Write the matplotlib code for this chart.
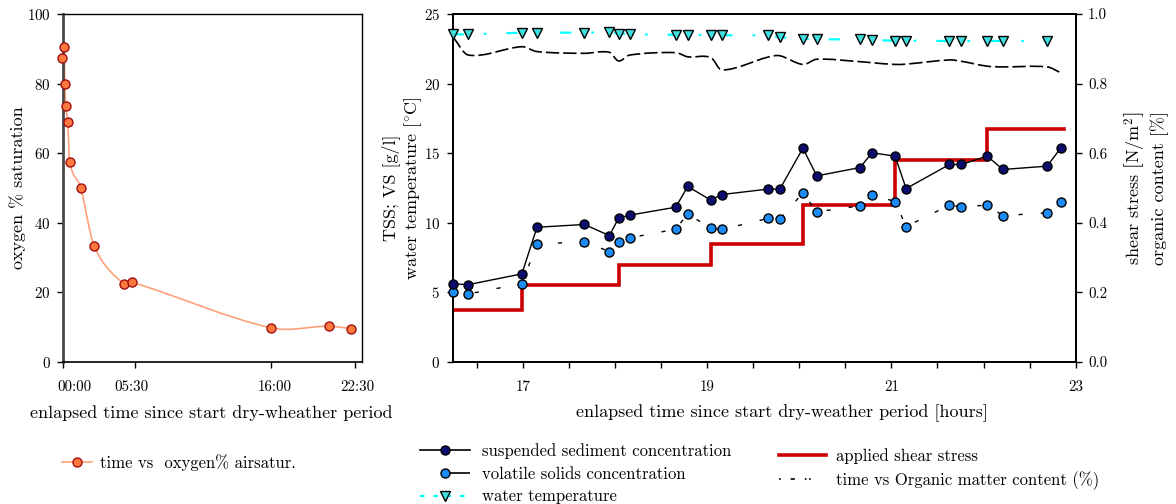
import numpy as np
import matplotlib
matplotlib.use("Agg")
import matplotlib.pyplot as plt
from matplotlib.path import Path
from matplotlib.patches import PathPatch
from matplotlib.lines import Line2D
from matplotlib.transforms import ScaledTranslation

plt.rcParams['font.family'] = ['cmr10', 'DejaVu Serif']
plt.rcParams['mathtext.fontset'] = 'cm'
plt.rcParams['axes.unicode_minus'] = False
plt.rcParams['axes.formatter.use_mathtext'] = True

# ---------------- oxygen saturation (left panel) ----------------
oxy_time_h = [-0.10, 0.03, 0.13, 0.19, 0.34, 0.49, 1.34, 2.39, 4.66, 5.30, 16.05, 20.48, 22.20]
oxy_saturation = [87.5, 90.4, 79.8, 73.5, 68.9, 57.5, 50.0, 33.2, 22.4, 22.9, 9.8, 10.3, 9.6]
oxy_tick_hours = [0, 5.5, 16, 22.5]
oxy_tick_labels = ['00:00', '05:30', '16:00', '22:30']

# ---------------- erosion experiment (right panel) ----------------
sample_time_h = [16.24, 16.41, 16.99, 17.155, 17.67, 17.94, 18.04, 18.16, 18.66, 18.79,
                 19.04, 19.16, 19.66, 19.79, 20.04, 20.19, 20.66, 20.79, 21.04, 21.16,
                 21.63, 21.76, 22.04, 22.21, 22.69, 22.84]
tss_gl = [5.61, 5.56, 6.33, 9.68, 9.88, 9.08, 10.33, 10.55, 11.12, 12.61,
          11.63, 12.03, 12.42, 12.42, 15.36, 13.37, 13.97, 15.03, 14.79, 12.46,
          14.19, 14.19, 14.79, 13.83, 14.07, 15.39]
vs_gl = [5.03, 4.89, 5.63, 8.46, 8.65, 7.93, 8.65, 8.92, 9.54, 10.64,
         9.61, 9.52, 10.31, 10.26, 12.15, 10.79, 11.22, 12.01, 11.53, 9.73,
         11.27, 11.15, 11.27, 10.52, 10.71, 11.48]
organic_content = [0.935, 0.882, 0.906, 0.892, 0.887, 0.890, 0.865, 0.882, 0.889, 0.877,
                   0.875, 0.839, 0.876, 0.880, 0.855, 0.870, 0.863, 0.860, 0.855, 0.856,
                   0.868, 0.864, 0.850, 0.848, 0.848, 0.831]
temp_time_h = sample_time_h[:-1]
water_temp_c = [23.54, 23.54, 23.66, 23.66, 23.66, 23.68, 23.59, 23.54, 23.51, 23.49,
                23.49, 23.47, 23.47, 23.32, 23.23, 23.18, 23.18, 23.13, 23.08, 23.08,
                23.06, 23.06, 23.06, 23.06, 23.06]
shear_step_h = [16.24, 16.99, 18.04, 19.04, 20.04, 21.04, 22.04, 22.87]
shear_stress = [0.15, 0.22, 0.28, 0.34, 0.45, 0.58, 0.67]
hour_ticks = np.arange(16.5, 23.01, 0.5)
labelled_hours = [17, 19, 21, 23]

C_OXY_LINE = '#ffa07a'
C_OXY_FACE = '#ff7840'
C_OXY_EDGE = '#a01010'
C_TSS = '#0c0c6e'
C_VS = '#1b8cf5'
C_TEMP_FACE = '#40e0e0'
C_TEMP_LINE = '#00ffff'
C_SHEAR = '#cc0000'

FS_TICK = 10.8
FS_LABEL = 13
FS_LEGEND = 12


def smooth_path(x, y):
    """Cubic Hermite curve through the points, parameterised by x."""
    x = np.asarray(x, float)
    y = np.asarray(y, float)
    n = len(x)
    m = np.empty(n)
    m[0] = (y[1] - y[0]) / (x[1] - x[0])
    m[-1] = (y[-1] - y[-2]) / (x[-1] - x[-2])
    m[1:-1] = (y[2:] - y[:-2]) / (x[2:] - x[:-2])
    verts = [(x[0], y[0])]
    codes = [Path.MOVETO]
    for i in range(n - 1):
        h = x[i + 1] - x[i]
        verts += [(x[i] + h / 3, y[i] + m[i] * h / 3),
                  (x[i + 1] - h / 3, y[i + 1] - m[i + 1] * h / 3),
                  (x[i + 1], y[i + 1])]
        codes += [Path.CURVE4] * 3
    return Path(verts, codes)


W, H = 1176, 504
fig = plt.figure(figsize=(W / 100, H / 100), dpi=100)
bottom = 1 - 362 / H
height = 348 / H

# ---------------- left panel ----------------
axL = fig.add_axes([63.3 / W, bottom, (361.7 - 63.3) / W, height])
axL.set_xlim(0, 23.02)
axL.set_ylim(0, 100)
axL.add_patch(PathPatch(smooth_path(oxy_time_h, oxy_saturation), fill=False,
                        edgecolor=C_OXY_LINE, lw=1.2, zorder=2))
axL.plot(oxy_time_h, oxy_saturation, ls='none', marker='o', ms=6.5,
         mfc=C_OXY_FACE, mec=C_OXY_EDGE, mew=1.0, zorder=3, clip_on=False)
axL.set_yticks(np.arange(0, 101, 20))
axL.set_xticks(oxy_tick_hours)
axL.set_xticklabels(oxy_tick_labels)
axL.tick_params(direction='out', length=4, width=1, labelsize=FS_TICK, pad=5)
axL.tick_params(axis='x', pad=9)
for sp in axL.spines.values():
    sp.set_linewidth(1.0)
axL.spines['left'].set_linewidth(2.0)
axL.spines['left'].set_color('#4a4a4a')
axL.spines['bottom'].set_linewidth(1.2)
for lbl, dx in zip(axL.get_xticklabels(), [11, -3.5, 4, 2]):
    lbl.set_transform(lbl.get_transform() + ScaledTranslation(dx / 100, 0, fig.dpi_scale_trans))
axL.set_ylabel('oxygen % saturation', fontsize=FS_LABEL, va='center')
axL.yaxis.set_label_coords((18 - 63.3) / (361.7 - 63.3), 0.5)
axL.set_xlabel('enlapsed time since start dry-wheather period', fontsize=FS_LABEL)
axL.xaxis.set_label_coords((211 - 63.3) / (361.7 - 63.3), (362 - 413) / 348)
axL.xaxis.label.set_va('center')

# ---------------- right panel ----------------
axR = fig.add_axes([452.7 / W, bottom, (1075.7 - 452.7) / W, height])
axS = axR.twinx()
axR.set_zorder(axS.get_zorder() + 1)
axR.patch.set_visible(False)

axR.set_xlim(16.24, 23.0)
axR.set_ylim(0, 25)
axS.set_ylim(0, 1.0)

# shear stress steps and organic content on the secondary scale
axS.step(shear_step_h, shear_stress + [shear_stress[-1]], where='post',
         color=C_SHEAR, lw=2.6, solid_joinstyle='miter')
axS.add_patch(PathPatch(smooth_path(sample_time_h, organic_content), fill=False,
                        edgecolor='black', lw=1.2, linestyle=(0, (8, 2.4))))

# concentrations and temperature on the primary scale
axR.plot(temp_time_h, water_temp_c, color=C_TEMP_LINE, lw=1.6,
         linestyle=(0, (5, 9, 1.2, 9)), zorder=2)
axR.plot(temp_time_h, water_temp_c, ls='none', marker='v', ms=7.5,
         mfc=C_TEMP_FACE, mec='black', mew=1.0, zorder=4, clip_on=False)
axR.plot(sample_time_h, vs_gl, color='black', lw=1.0, linestyle=(0, (3, 13)), zorder=2)
axR.plot(sample_time_h, vs_gl, ls='none', marker='o', ms=6.5,
         mfc=C_VS, mec='black', mew=1.0, zorder=4, clip_on=False)
axR.plot(sample_time_h, tss_gl, color='black', lw=1.0, marker='o', ms=6.5,
         mfc=C_TSS, mec='black', mew=1.0, zorder=5, clip_on=False)

axR.set_xticks(hour_ticks)
axR.set_xticklabels([f'{t:.0f}' if t in labelled_hours else '' for t in hour_ticks])
axR.set_yticks(np.arange(0, 26, 5))
axS.set_yticks(np.arange(0, 1.01, 0.2))
axS.set_yticklabels([f'{v:.1f}' for v in np.arange(0, 1.01, 0.2)])
axR.tick_params(direction='out', length=4, width=1, labelsize=FS_TICK, pad=5)
axR.tick_params(axis='x', pad=9)
axS.tick_params(direction='out', length=4, width=1, labelsize=FS_TICK, pad=5)
for ax in (axR, axS):
    for sp in ax.spines.values():
        sp.set_linewidth(1.3)

axR.set_ylabel('TSS; VS [g/l]\nwater temperature [$^{\\circ}$C]', fontsize=FS_LABEL,
               va='center', linespacing=1.2)
axR.yaxis.set_label_coords((402.5 - 452.7) / 623, 0.5)
axS.set_ylabel('shear stress $\\left[\\mathrm{N/m}^2\\right]$\norganic content [%]',
               fontsize=FS_LABEL, va='center', rotation=90, linespacing=1.2)
axS.yaxis.set_label_coords((1146 - 452.7) / 623, 0.5)
axR.set_xlabel('enlapsed time since start dry-weather period [hours]', fontsize=FS_LABEL)
axR.xaxis.set_label_coords((782 - 452.7) / 623, (362 - 413) / 348)
axR.xaxis.label.set_va('center')

# ---------------- legends ----------------
h_oxy = Line2D([], [], color=C_OXY_LINE, lw=1.2, marker='o', ms=6.5,
               mfc=C_OXY_FACE, mec=C_OXY_EDGE)
fig.legend([h_oxy], ['time vs  oxygen% airsatur.'], loc='center left',
           bbox_to_anchor=(62 / W, 1 - 462.7 / H), frameon=False, fontsize=FS_LEGEND,
           handlelength=1.8, handletextpad=0.45, borderpad=0, borderaxespad=0)

h_tss = Line2D([], [], color='black', lw=1.2, marker='o', ms=6.5, mfc=C_TSS, mec='black')
h_vs = Line2D([], [], color='black', lw=1.2, linestyle=(18, (18, 17)),
              marker='o', ms=6.5, mfc=C_VS, mec='black')
h_temp = Line2D([], [], color=C_TEMP_LINE, lw=1.6, linestyle=(0, (2, 4)),
                marker='v', ms=7.5, mfc=C_TEMP_FACE, mec='black')
fig.legend([h_tss, h_vs, h_temp],
           ['suspended sediment concentration', 'volatile solids concentration',
            'water temperature'],
           loc='upper left', bbox_to_anchor=(420 / W, 1 - 443 / H), frameon=False,
           fontsize=FS_LEGEND, handlelength=3.0, handletextpad=0.75, labelspacing=0.45,
           borderpad=0, borderaxespad=0)

h_shear = Line2D([], [], color=C_SHEAR, lw=2.6)
h_org = Line2D([], [], color='black', lw=1.2, linestyle=(0, (1, 6, 2.5, 6, 1, 1.5, 1, 10)))
fig.legend([h_shear, h_org],
           ['applied shear stress', 'time vs Organic matter content (%)'],
           loc='upper left', bbox_to_anchor=(779 / W, 1 - 448 / H), frameon=False,
           fontsize=FS_LEGEND, handlelength=2.8, handletextpad=0.6, labelspacing=0.45,
           borderpad=0, borderaxespad=0)

fig.savefig('out.png', dpi=100)
